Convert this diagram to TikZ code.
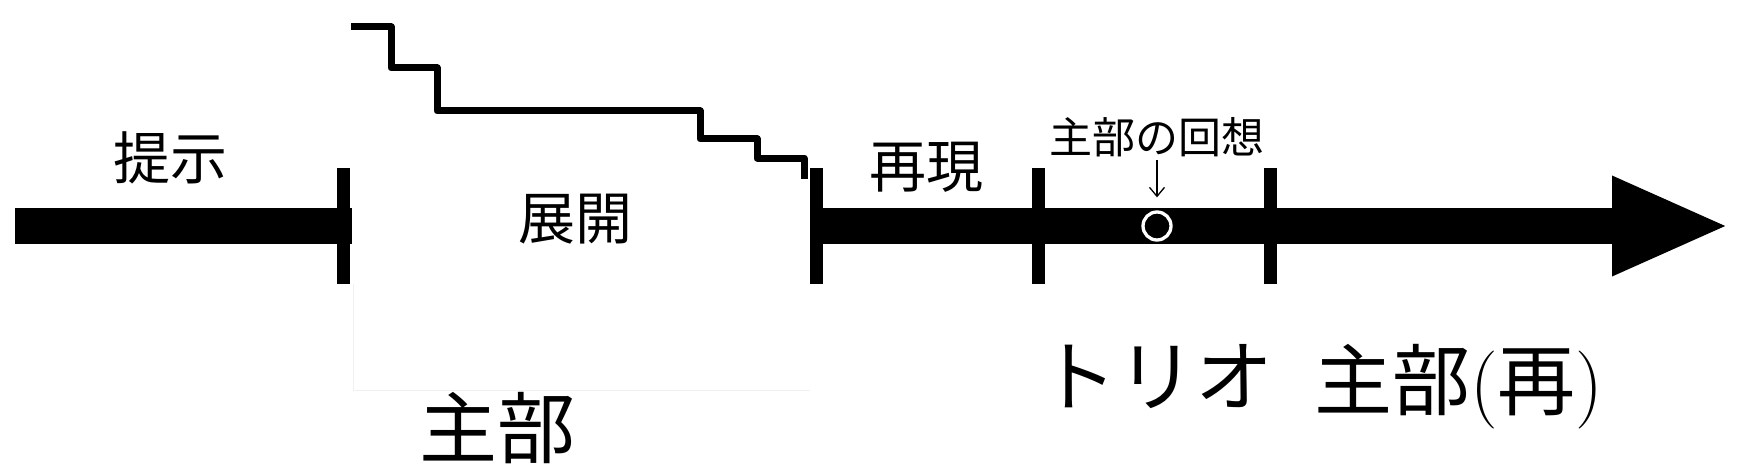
\documentclass[tikz,border=0pt]{standalone}
\usepackage{fontspec}
\usepackage{tikz}
\usetikzlibrary{arrows.meta, positioning}
\newfontfamily\jp{Noto Sans CJK JP}
\tikzstyle{sect} = [inner sep=0pt, font=\jp\fontsize{57}{60}\selectfont]
\tikzstyle{part} = [inner sep=0pt, font=\jp\fontsize{78}{80}\selectfont]
\tikzstyle{note} = [inner sep=0pt, font=\jp\fontsize{43}{45}\selectfont]
\tikzstyle{bar} = [line width=36pt]
\tikzstyle{tick} = [line width=13pt]
\tikzstyle{stair} = [line width=7pt, line join=round]

\begin{document}
\begin{tikzpicture}[x=1pt,y=-1pt,>=Stealth]
    \useasboundingbox (0,0) rectangle (1750,476);
    % time line
    \coordinate (start) at (15,226);
    \coordinate (expo) at (352,226);
    \coordinate (recap) at (816,226);
    \coordinate (tip) at (1730,226);
    \draw [bar] (start) -- (expo);
    \draw [bar, -{Triangle[width=91pt,length=118pt]}] (recap) -- (tip);
    \foreach \x in {343,816,1038,1270}
        \draw [tick] (\x,168) -- (\x,284);
    % development
    \draw [stair] (351,27) -| (391,68) -| (437,111) -| (700,139) -| (757,158) -| (804,179);
    \draw [black!6, line width=1pt] (353,284) -- (353,390) -- (810,390);
    % labels
    \node [sect] (teiji) at (170,158) {提示};
    \node [sect] (tenkai) at (575,219) {展開};
    \node [sect] (saigen) at (926,167) {再現};
    \node [part] (shubu) at (497,428) {主部};
    \node [part] (trio) at (1156,377) {トリオ};
    \node [part, anchor=base west] (shubu2) at (1314,409) {主部{\rmfamily(}再{\rmfamily)}};
    % recall of the main part
    \node [note] (recall) at (1157,137) {主部の回想};
    \node [circle, draw=white, line width=3.3pt, minimum size=28pt, inner sep=0pt] (dot) at (1157,226) {};
    \coordinate (ptr) at (1157,160);
    \draw [-{Straight Barb[length=9pt,width=15pt]}, line width=1.3pt, shorten >=13pt] (ptr) -- (dot.north);
\end{tikzpicture}
\end{document}
